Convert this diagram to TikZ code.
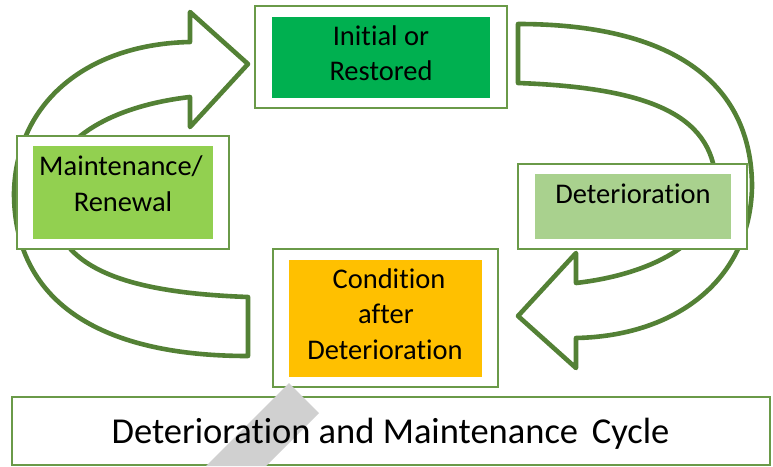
\documentclass[tikz,border=0pt]{standalone}
\usepackage{fontspec}
\setmainfont{Carlito}[Ligatures={NoCommon,NoContextual}]
\definecolor{arrowgreen}{HTML}{538135}
\definecolor{framegreen}{HTML}{6A9A48}
\definecolor{fillA}{HTML}{00B050}
\definecolor{fillB}{HTML}{92D050}
\definecolor{fillC}{HTML}{A9D18E}
\definecolor{fillD}{HTML}{FFC000}
\definecolor{bandgray}{HTML}{D0D0D0}
\newcommand{\cyclearrow}{%
  \draw[blockarrow] (248,356) .. controls (96,356) and (14,299) .. (14,193)
    .. controls (16,100) and (90,44) .. (190,42)
    -- (190,12) -- (248,64) -- (190,127) -- (190,97)
    .. controls (120,105) and (52,135) .. (50,192)
    .. controls (50,262) and (110,292) .. (248,297)
    -- cycle;}
\begin{document}
\begin{tikzpicture}[x=1pt,y=-1pt,
  blockarrow/.style={draw=arrowgreen,line width=4.6pt,fill=white,line join=round},
  frame/.style={rectangle,draw=framegreen,line width=1.5pt,fill=white,inner sep=0pt},
  panel/.style={rectangle,inner sep=0pt,draw=none},
  lbl/.style={anchor=base,inner sep=0pt,font=\fontsize{28.5pt}{34pt}\selectfont},
  ttl/.style={anchor=base,inner sep=0pt,font=\fontsize{36.5pt}{44pt}\selectfont}]
\useasboundingbox (0,0) rectangle (773,466);
\fill[white] (0,0) rectangle (773,466);
% curved block arrows
\cyclearrow
\begin{scope}[rotate around={180:(383,190)}]
\cyclearrow
\end{scope}
% boxes
\node[frame,minimum width=252pt,minimum height=102pt] (topbox) at (381,57) {};
\node[panel,fill=fillA,minimum width=218pt,minimum height=81pt] (toppanel) at (381,57.5) {};
\node[frame,minimum width=212pt,minimum height=113pt] (leftbox) at (123,192.5) {};
\node[panel,fill=fillB,minimum width=180pt,minimum height=93pt] (leftpanel) at (123,192.5) {};
\node[frame,minimum width=229pt,minimum height=85pt] (rightbox) at (632.5,206.5) {};
\node[panel,fill=fillC,minimum width=196pt,minimum height=65pt] (rightpanel) at (633,206.5) {};
\node[frame,minimum width=225pt,minimum height=138pt] (botbox) at (385.5,318) {};
\node[panel,fill=fillD,minimum width=193pt,minimum height=117pt] (botpanel) at (385.5,318.5) {};
\node[frame,minimum width=758pt,minimum height=68pt] (titlebox) at (391,431) {};
% grey band
\fill[bandgray] (289,383) -- (319,413) -- (266,466) -- (206,466) -- cycle;
% texts
\node[lbl] (t1) at (381,45) {Initial or};
\node[lbl] (t2) at (381,80) {Restored};
\node[lbl] (l1) at (121,175) {Maintenance/};
\node[lbl] (l2) at (123,211) {Renewal};
\node[lbl] (r1) at (633,203) {Deterioration};
\node[lbl] (b1) at (389,288) {Condition};
\node[lbl] (b2) at (386,323) {after};
\node[lbl] (b3) at (385,359) {Deterioration};
\node[ttl] (title) at (390.5,443) {Deterioration and Maintenance\hspace{0.15em} Cycle};
\end{tikzpicture}
\end{document}
